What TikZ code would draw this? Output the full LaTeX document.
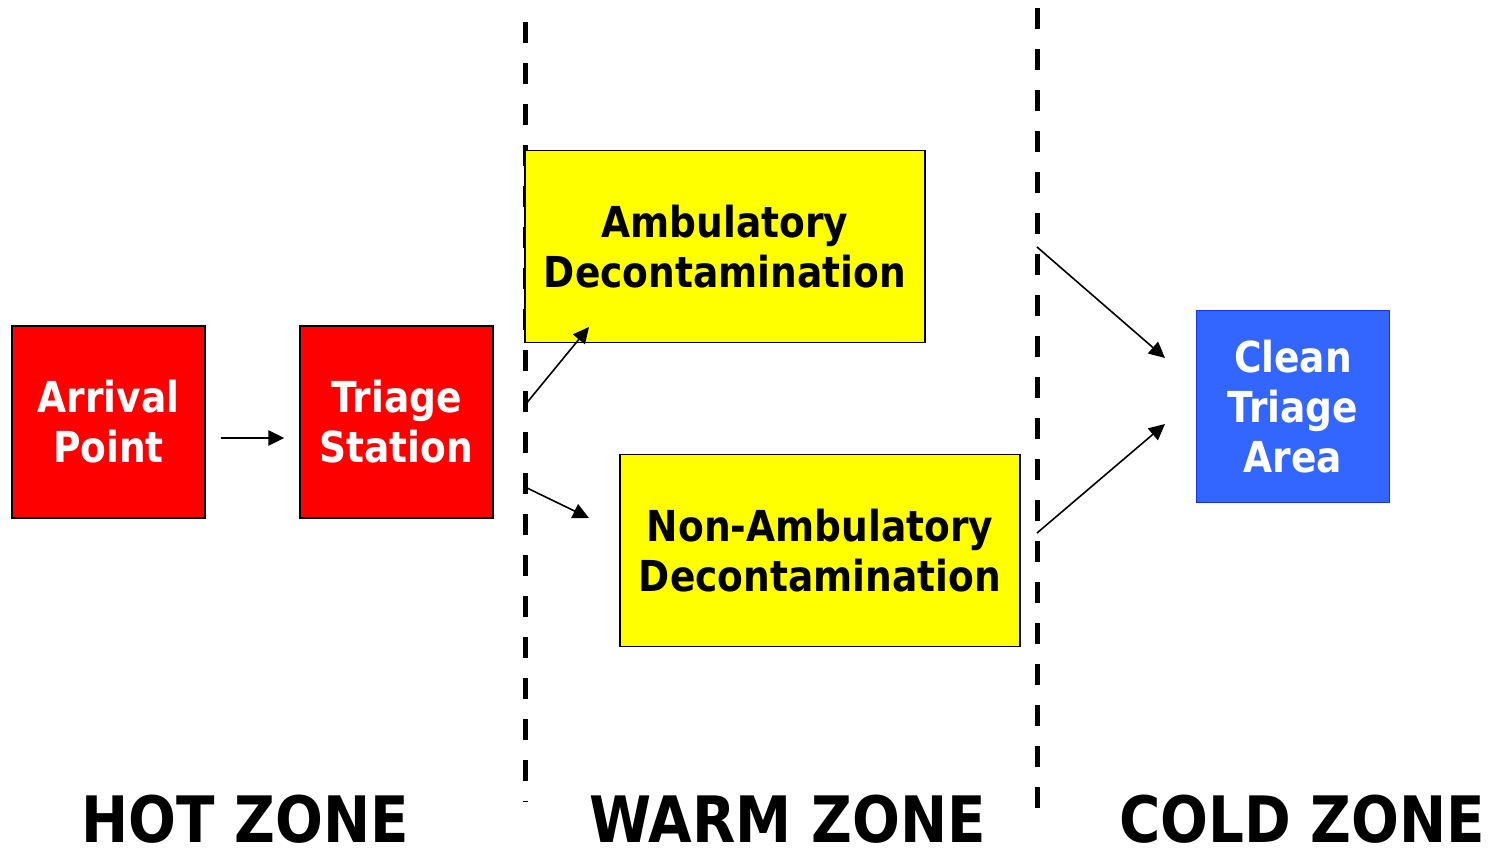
\documentclass[tikz,border=0pt]{standalone}
\usepackage{fontspec}
\setmainfont{DejaVu Sans}[FakeStretch=0.88]
\usetikzlibrary{arrows.meta,calc}
\definecolor{hotred}{HTML}{FF0000}
\definecolor{warmyel}{HTML}{FFFF00}
\definecolor{coldblue}{HTML}{3366FF}
\definecolor{coldedge}{HTML}{1133EE}
\tikzset{
  box/.style={draw=black, line width=1.1pt, minimum width=144.75pt, minimum height=144pt, inner sep=0pt, align=center,
    font=\fontsize{32}{37.5}\selectfont\bfseries},
  widebox/.style={box, minimum width=300pt, fill=warmyel, text=black},
  hotbox/.style={box, fill=hotred, text=white},
  coldbox/.style={box, fill=coldblue, draw=coldedge, text=white},
  zoneline/.style={line width=3.75pt, dash pattern=on 15.75pt off 15pt},
  flow/.style={line width=1.2pt, -{Triangle[length=12pt,width=11.5pt]}},
  zonelabel/.style={anchor=base, inner sep=0pt, text depth=0pt, font=\fontsize{48}{56}\selectfont\bfseries}
}
\begin{document}
\begin{tikzpicture}[x=0.75pt,y=-0.75pt]
\useasboundingbox (0,0) rectangle (1496,853);
% zone lines
\coordinate (l1t) at (525,22);
\coordinate (l1b) at (525,802);
\coordinate (l2t) at (1037,8);
\coordinate (l2b) at (1037,822);
\draw[zoneline] (l1t) -- (l1b);
\draw[zoneline] (l2t) -- (l2b);
% boxes
\node[hotbox] (arr) at (108.5,422) {Arrival\\Point};
\node[hotbox] (tri) at (396.5,422) {Triage\\Station};
\node[widebox] (amb) at (725,246.5) {Ambulatory\\Decontamination};
\node[widebox] (non) at (820,550.5) {Non-Ambulatory\\Decontamination};
\node[coldbox] (cln) at (1293,406.5) {Clean\\Triage\\Area};
% connectors
\draw[flow] ($(arr.east)+(15,16)$) -- ($(tri.west)+(-15,16)$);
\coordinate (s1) at (525,405);
\coordinate (e1) at (589,327);
\coordinate (s2) at (525,487);
\coordinate (e2) at (589,518);
\coordinate (s3) at (1037,247);
\coordinate (e3) at (1165,358);
\coordinate (s4) at (1037,533);
\coordinate (e4) at (1165,424);
\draw[flow] (s1) -- (e1);
\draw[flow] (s2) -- (e2);
\draw[flow] (s3) -- (e3);
\draw[flow] (s4) -- (e4);
% zone labels
\node[zonelabel] (hot) at (245,842) {HOT ZONE};
\node[zonelabel] (warm) at (787.5,842) {WARM ZONE};
\node[zonelabel] (cold) at (1302,842) {COLD ZONE};
\end{tikzpicture}
\end{document}
